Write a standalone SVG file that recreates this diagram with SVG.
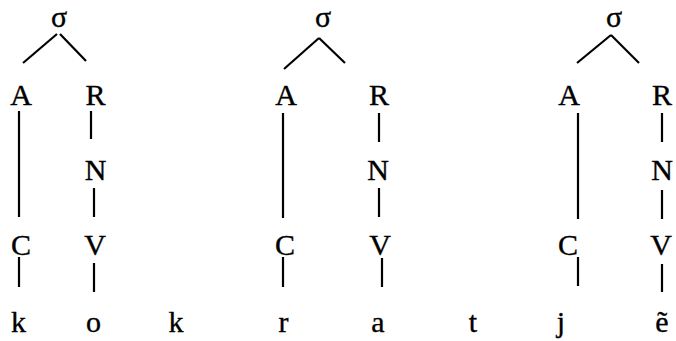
<svg xmlns="http://www.w3.org/2000/svg" width="676" height="341" viewBox="0 0 676 341">
<style>
.c line{stroke:#000;stroke-width:2.2;stroke-linecap:butt}
</style>
<rect width="676" height="341" fill="#fff"/>
<g id="connectors" class="c">
<line x1="23" y1="63" x2="57" y2="34"/>
<line x1="60" y1="34" x2="86" y2="61"/>
<line x1="19" y1="111" x2="19" y2="217"/>
<line x1="91" y1="111" x2="91" y2="139"/>
<line x1="94" y1="188" x2="94" y2="217"/>
<line x1="19" y1="257" x2="19" y2="287"/>
<line x1="94" y1="263" x2="94" y2="292"/>
<line x1="284" y1="69" x2="319" y2="38"/>
<line x1="319" y1="38" x2="345" y2="63"/>
<line x1="283" y1="113" x2="283" y2="218"/>
<line x1="379" y1="113" x2="379" y2="142"/>
<line x1="379" y1="188" x2="379" y2="217"/>
<line x1="283" y1="257" x2="283" y2="287"/>
<line x1="382" y1="258" x2="382" y2="287"/>
<line x1="577" y1="63" x2="611" y2="35"/>
<line x1="611" y1="35" x2="639" y2="63"/>
<line x1="578" y1="113" x2="578" y2="219"/>
<line x1="662" y1="113" x2="662" y2="142"/>
<line x1="662" y1="190" x2="662" y2="219"/>
<line x1="578" y1="257" x2="578" y2="286"/>
<line x1="662" y1="264" x2="662" y2="292"/>
</g>
<g id="nodes" font-family="'Liberation Serif', 'Times New Roman', serif" font-size="30" fill="#000" stroke="#000" stroke-width="0.35" text-anchor="middle">
<g id="syl1"><text x="59" y="27">σ</text></g>
<g id="A1"><text x="21" y="105">A</text></g>
<g id="R1"><text x="95.5" y="105">R</text></g>
<g id="N1"><text x="95.5" y="180">N</text></g>
<g id="C1"><text x="21" y="255">C</text></g>
<g id="V1"><text x="95" y="255">V</text></g>
<g id="syl2"><text x="323" y="27">σ</text></g>
<g id="A2"><text x="286" y="105">A</text></g>
<g id="R2"><text x="379" y="105">R</text></g>
<g id="N2"><text x="378" y="180">N</text></g>
<g id="C2"><text x="285" y="255">C</text></g>
<g id="V2"><text x="380" y="255">V</text></g>
<g id="syl3"><text x="614" y="27">σ</text></g>
<g id="A3"><text x="569" y="105">A</text></g>
<g id="R3"><text x="662" y="105">R</text></g>
<g id="N3"><text x="662" y="180">N</text></g>
<g id="C3"><text x="568" y="255">C</text></g>
<g id="V3"><text x="661" y="255">V</text></g>
<g id="seg-k1"><text x="18.5" y="332">k</text></g>
<g id="seg-o"><text x="93.5" y="332">o</text></g>
<g id="seg-k2"><text x="176" y="332">k</text></g>
<g id="seg-r"><text x="283.5" y="332">r</text></g>
<g id="seg-a"><text x="378" y="332">a</text></g>
<g id="seg-t"><text x="473" y="332">t</text></g>
<g id="seg-j"><text x="561" y="332">j</text></g>
<g id="seg-e"><text x="662" y="332">ẽ</text></g>
</g>
</svg>
